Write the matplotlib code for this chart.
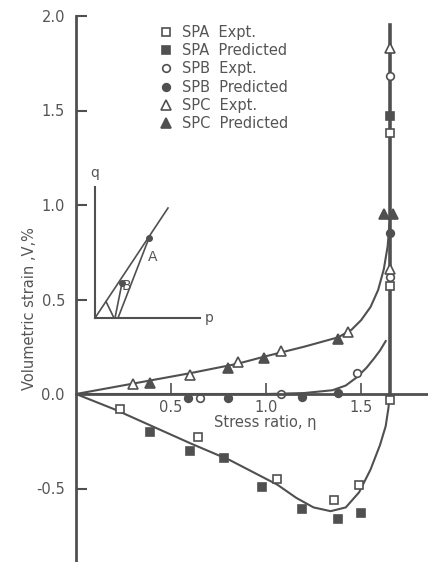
import matplotlib.pyplot as plt

plt.rcParams['font.family'] = ['DejaVu Sans']
GRAY = '#505050'
TXT = '#555555'

# smooth curves (stress ratio, volumetric strain %)
spa_curve_eta = [0, 0.2, 0.4, 0.6, 0.81, 1.06, 1.16, 1.25, 1.34, 1.42, 1.49, 1.55, 1.60, 1.63, 1.645, 1.65]
spa_curve_v = [0, -0.08, -0.17, -0.26, -0.35, -0.48, -0.55, -0.60, -0.62, -0.60, -0.52, -0.40, -0.27, -0.17, -0.07, 0]
spb_curve_eta = [0, 0.5, 1.0, 1.2, 1.35, 1.42, 1.48, 1.53, 1.57, 1.60, 1.63]
spb_curve_v = [0, 0.0, 0.0, 0.005, 0.02, 0.045, 0.09, 0.14, 0.19, 0.23, 0.28]
spc_curve_eta = [0, 0.3, 0.6, 0.85, 1.0, 1.2, 1.38, 1.45, 1.5, 1.55, 1.59, 1.62, 1.64, 1.65]
spc_curve_v = [0, 0.055, 0.11, 0.16, 0.2, 0.25, 0.30, 0.34, 0.39, 0.46, 0.55, 0.66, 0.78, 0.9]
fail_eta = 1.65
fail_v = [0, 1.95]

# measured / predicted points
spa_expt_eta = [0.23, 0.64, 1.06, 1.36, 1.49, 1.65, 1.65, 1.65]
spa_expt_v = [-0.08, -0.23, -0.45, -0.56, -0.48, -0.03, 0.57, 1.38]
spa_pred_eta = [0.39, 0.60, 0.78, 0.98, 1.19, 1.38, 1.50, 1.65]
spa_pred_v = [-0.20, -0.30, -0.34, -0.49, -0.61, -0.66, -0.63, 1.47]
spb_expt_eta = [0.65, 1.08, 1.48, 1.65, 1.65]
spb_expt_v = [-0.02, 0.0, 0.11, 0.62, 1.68]
spb_pred_eta = [0.59, 0.80, 1.19, 1.38, 1.65]
spb_pred_v = [-0.02, -0.02, -0.015, 0.005, 0.85]
spc_expt_eta = [0.30, 0.60, 0.85, 1.08, 1.43, 1.65, 1.65]
spc_expt_v = [0.055, 0.10, 0.17, 0.23, 0.33, 0.66, 1.83]
spc_pred_eta = [0.39, 0.80, 0.99, 1.38, 1.62, 1.67]
spc_pred_v = [0.06, 0.14, 0.19, 0.29, 0.95, 0.95]

# inset stress-path sketch (p, q)
csl_p = [0, 0.73]
csl_q = [0, 1.10]
path_a_p = [0.23, 0.54]
path_a_q = [0, 0.80]
path_b_p = [0.20, 0.27]
path_b_q = [0, 0.35]
path_c_p = [0.19, 0.11]
path_c_q = [0, 0.165]

fig = plt.figure(figsize=(4.28, 5.62), dpi=100)
ax = fig.add_axes([76 / 428, 0, 1 - 76 / 428, (562 - 16) / 562])
ax.set_xlim(0, 352 / 190)
ax.set_ylim(-(562 - 394) / 189, 2.0)

ax.plot(spa_curve_eta, spa_curve_v, color=GRAY, lw=1.5)
ax.plot(spb_curve_eta, spb_curve_v, color=GRAY, lw=1.5)
ax.plot(spc_curve_eta, spc_curve_v, color=GRAY, lw=1.5)
ax.plot([fail_eta, fail_eta], fail_v, color=GRAY, lw=2.6)

mk = dict(ls='none', color=GRAY, mec=GRAY, mew=1.2, clip_on=False)
ax.plot(spa_expt_eta, spa_expt_v, 's', mfc='white', ms=5.5, label='SPA  Expt.', **mk)
ax.plot(spa_pred_eta, spa_pred_v, 's', ms=6, label='SPA  Predicted', **mk)
ax.plot(spb_expt_eta, spb_expt_v, 'o', mfc='white', ms=5.5, label='SPB  Expt.', **mk)
ax.plot(spb_pred_eta, spb_pred_v, 'o', ms=5.5, label='SPB  Predicted', **mk)
ax.plot(spc_expt_eta, spc_expt_v, '^', mfc='white', ms=6.5, label='SPC  Expt.', **mk)
ax.plot(spc_pred_eta, spc_pred_v, '^', ms=7, label='SPC  Predicted', **mk)

ax.legend(loc='upper left', bbox_to_anchor=(160 / 428, 1 - 25 / 562), bbox_transform=fig.transFigure,
          frameon=False, fontsize=10.5, labelcolor=TXT, handlelength=0.8, handletextpad=0.7,
          labelspacing=0.22, borderpad=0, borderaxespad=0)

for s in ['top', 'right']:
    ax.spines[s].set_visible(False)
ax.spines['bottom'].set_position(('data', 0))
ax.spines['left'].set_linewidth(2)
ax.spines['bottom'].set_linewidth(2)
ax.spines['left'].set_color(GRAY)
ax.spines['bottom'].set_color(GRAY)

ax.set_yticks([-0.5, 0, 0.5, 1.0, 1.5, 2.0])
ax.set_yticklabels(['-0.5', '0.0', '0.5', '1.0', '1.5', '2.0'])
ax.set_xticks([0.5, 1.0, 1.5])
ax.set_xticklabels(['0.5', '1.0', '1.5'])
ax.tick_params(axis='y', direction='in', length=8, width=1.5, pad=8, colors=GRAY, labelcolor=TXT, labelsize=10.5)
ax.tick_params(axis='x', direction='in', length=8, width=1.2, pad=4, colors=GRAY, labelcolor=TXT, labelsize=10.5)

fig.text(214 / 428, 1 - 423 / 562, 'Stress ratio, η', ha='left', va='center', fontsize=10.5, color=TXT)
fig.text(30 / 428, 1 - 309 / 562, 'Volumetric strain ,V,%', rotation=90, ha='center', va='center',
         fontsize=10.5, color=TXT)

# inset sketch
ins = fig.add_axes([85 / 428, 1 - 330 / 562, 140 / 428, 170 / 562])
ins.set_xlim(-0.10, 1.30)
ins.set_ylim(-0.12, 1.58)
ins.axis('off')
ins.plot([0, 0], [0, 1.31], color=GRAY, lw=1.5)
ins.plot([0, 1.05], [0, 0], color=GRAY, lw=1.5)
ins.plot(csl_p, csl_q, color=GRAY, lw=1.2)
ins.plot(path_a_p, path_a_q, color=GRAY, lw=1.2)
ins.plot(path_b_p, path_b_q, color=GRAY, lw=1.2)
ins.plot(path_c_p, path_c_q, color=GRAY, lw=1.2)
ins.plot([path_a_p[1], path_b_p[1]], [path_a_q[1], path_b_q[1]], 'o', color=GRAY, ms=4)
ins.text(1.10, 0, 'p', ha='left', va='center', fontsize=10, color=TXT)
ins.text(0.0, 1.45, 'q', ha='center', va='center', fontsize=10, color=TXT)
ins.text(0.58, 0.61, 'A', ha='center', va='center', fontsize=10, color=TXT)
ins.text(0.31, 0.32, 'B', ha='center', va='center', fontsize=10, color=TXT)

fig.savefig('out.png', dpi=100)
